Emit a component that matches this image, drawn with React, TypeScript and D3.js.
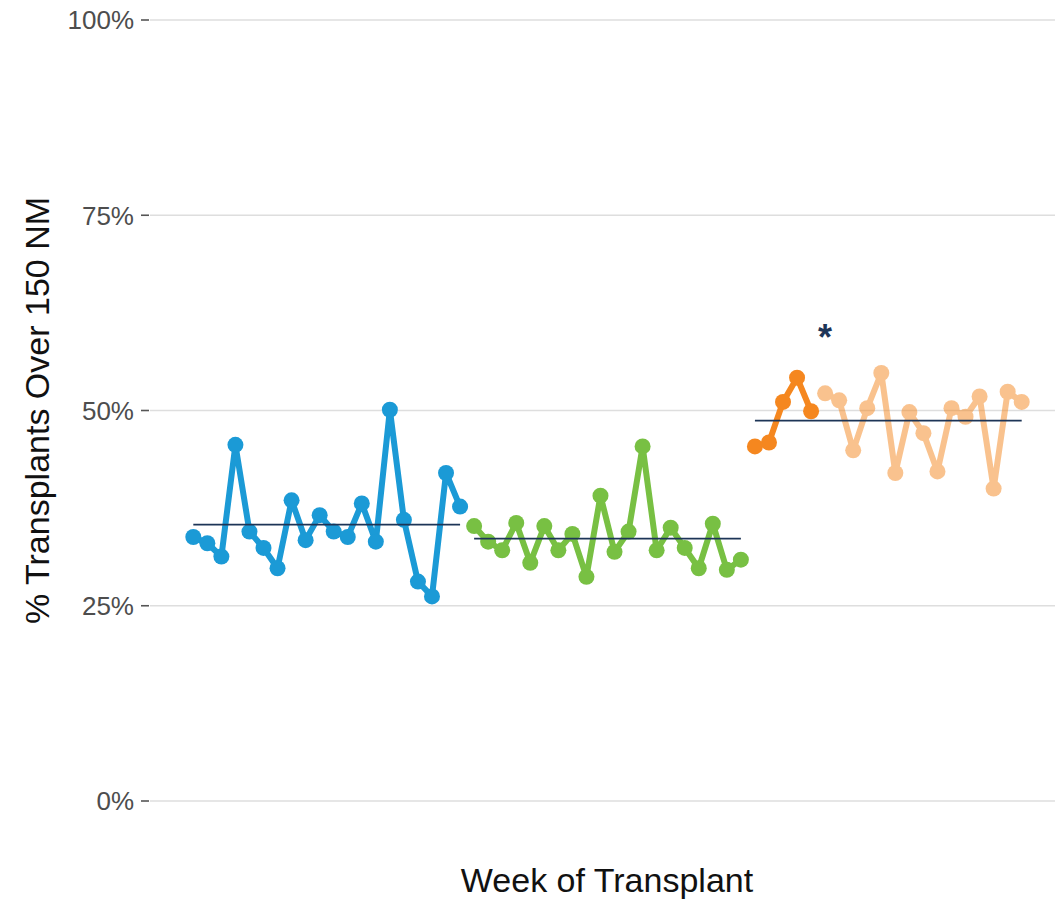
import React from "react";
import * as d3 from "d3";

const blueValues = [33.8, 33.0, 31.3, 45.6, 34.5, 32.4, 29.8, 38.5, 33.4, 36.6, 34.5, 33.8, 38.1, 33.2, 50.1, 36.0, 28.1, 26.2, 42.0, 37.7];
const greenValues = [35.2, 33.2, 32.1, 35.6, 30.5, 35.2, 32.1, 34.2, 28.7, 39.1, 31.9, 34.5, 45.4, 32.1, 35.0, 32.4, 29.8, 35.5, 29.6, 30.9];
const orangeValues = [45.4, 45.9, 51.1, 54.2, 49.9];
const orangeLightValues = [52.2, 51.3, 44.9, 50.3, 54.8, 42.0, 49.8, 47.1, 42.2, 50.3, 49.2, 51.8, 40.0, 52.4, 51.1];
const segmentMeans = [35.4, 33.6, 48.7];
const yTicks = [0, 25, 50, 75, 100];
const asteriskPoint = { week: 46, value: 60 };

const W = 1055;
const H = 901;

type Pt = { week: number; value: number };

export default function App() {
  const x = d3.scaleLinear().domain([1, 60]).range([193.3, 1021.7]);
  const y = d3.scaleLinear().domain([0, 100]).range([801, 20]);

  const mk = (vals: number[], start: number): Pt[] => vals.map((v, i) => ({ week: start + i, value: v }));
  const blue = mk(blueValues, 1);
  const green = mk(greenValues, 21);
  const orange = mk(orangeValues, 41);
  const orangeLight = mk(orangeLightValues, 46);

  const line = d3
    .line<Pt>()
    .x((d) => x(d.week))
    .y((d) => y(d.value));

  const series = [
    { pts: blue, color: "#1b9ad6", opacity: 1 },
    { pts: green, color: "#78c043", opacity: 1 },
    { pts: orange, color: "#f5871f", opacity: 1 },
    { pts: orangeLight, color: "#f5871f", opacity: 0.5 },
  ];

  const meanSegs = [
    { from: 1, to: 20, v: segmentMeans[0] },
    { from: 21, to: 40, v: segmentMeans[1] },
    { from: 41, to: 60, v: segmentMeans[2] },
  ];

  const font = "'Liberation Sans', Arial, Helvetica, sans-serif";

  return (
    <svg width={W} height={H} style={{ position: "absolute", left: 0, top: 0, background: "#fff" }} fontFamily={font}>
      {yTicks.map((t) => (
        <g key={t}>
          <line x1={150} x2={W} y1={y(t)} y2={y(t)} stroke="#dedede" strokeWidth={1.6} />
          <line x1={141} x2={149} y1={y(t)} y2={y(t)} stroke="#555" strokeWidth={1.6} />
          <text x={134} y={y(t)} dy="0.36em" textAnchor="end" fontSize={26} fill="#4d4d4d">
            {t + "%"}
          </text>
        </g>
      ))}
      {series.map((s, i) => (
        <g key={i} opacity={s.opacity}>
          <path d={line(s.pts) || ""} fill="none" stroke={s.color} strokeWidth={6} strokeLinejoin="round" />
          {s.pts.map((p) => (
            <circle key={p.week} cx={x(p.week)} cy={y(p.value)} r={8} fill={s.color} />
          ))}
        </g>
      ))}
      {meanSegs.map((m, i) => (
        <line key={i} x1={x(m.from)} x2={x(m.to)} y1={y(m.v)} y2={y(m.v)} stroke="#1d3557" strokeWidth={1.8} />
      ))}
      <text x={x(asteriskPoint.week)} y={y(asteriskPoint.value) + 18} textAnchor="middle" fontSize={36} fontWeight="bold" fill="#1d3557">
        *
      </text>
      <text transform={`translate(49,${y(50)}) rotate(-90)`} textAnchor="middle" fontSize={34} fill="#111">
        % Transplants Over 150 NM
      </text>
      <text x={607} y={892} textAnchor="middle" fontSize={34} fill="#111">
        Week of Transplant
      </text>
    </svg>
  );
}
